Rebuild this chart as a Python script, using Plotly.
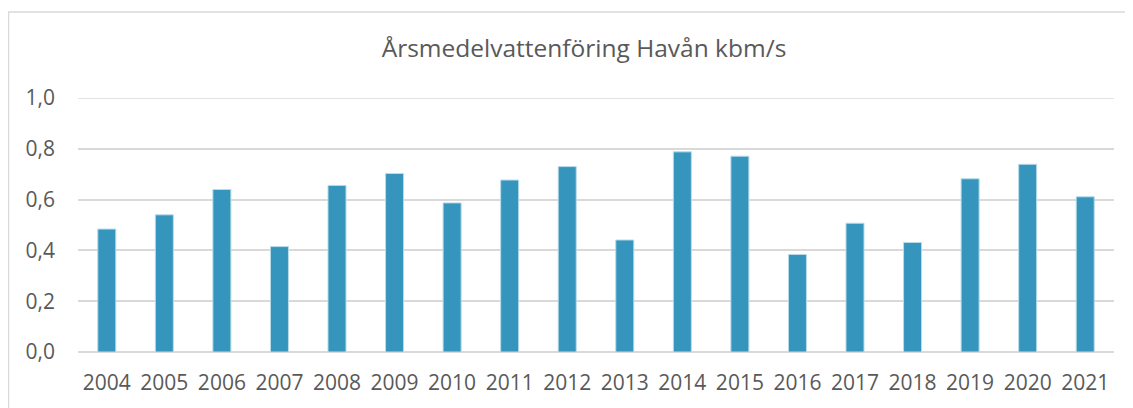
import plotly.graph_objects as go

years = ["2004", "2005", "2006", "2007", "2008", "2009", "2010", "2011", "2012",
         "2013", "2014", "2015", "2016", "2017", "2018", "2019", "2020", "2021"]
flow = [0.484, 0.540, 0.640, 0.415, 0.656, 0.703, 0.587, 0.677, 0.730,
        0.441, 0.788, 0.771, 0.384, 0.507, 0.431, 0.682, 0.739, 0.611]
ytick_vals = [0.0, 0.2, 0.4, 0.6, 0.8, 1.0]
ytick_text = ["0,0", "0,2", "0,4", "0,6", "0,8", "1,0"]
title = "Årsmedelvattenföring Havån kbm/s"

# page body has an 8px margin, so the figure is drawn 8px in from the window
OFF = 8
W, H = 1133 - OFF, 408 - OFF
L, R, T, B = 78 - OFF, 1133 - 1114, 98 - OFF, 408 - 355
pw, ph = W - L - R, H - T - B

def px2x(px):
    return (px - OFF - L) / pw

def px2y(py):
    return (H - B - (py - OFF)) / ph

fig = go.Figure()
fig.add_trace(go.Bar(
    x=years, y=flow,
    marker=dict(color="#3595bc", line=dict(color="#b8dcea", width=1)),
))

fig.update_layout(
    width=W, height=H,
    margin=dict(l=L, r=R, t=T, b=B),
    paper_bgcolor="white", plot_bgcolor="white",
    font=dict(family="Open Sans", color="#595959"),
    bargap=0.687,
    showlegend=False,
    title=dict(text=title, x=(584 - OFF) / W, xanchor="center",
               y=1 - (48 - OFF) / H, yanchor="middle",
               font=dict(size=24.5, color="#595959", family="Open Sans")),
    xaxis=dict(showgrid=False, showline=False, ticks="", tickfont=dict(size=21),
               ticklabelstandoff=16),
    yaxis=dict(range=[0, 1.0], tickvals=ytick_vals, ticktext=ytick_text,
               showgrid=True, gridcolor="#d9d9d9", gridwidth=1.5,
               zeroline=True, zerolinecolor="#d9d9d9", zerolinewidth=1.5,
               showline=False, ticks="", tickfont=dict(size=21),
               ticklabelstandoff=22),
    shapes=[
        dict(type="line", xref="paper", yref="y", x0=0, x1=1, y0=1.0, y1=1.0,
             line=dict(color="#d9d9d9", width=1.5), layer="below"),
        dict(type="line", xref="paper", yref="paper",
             x0=px2x(8.5), x1=px2x(8.5), y0=px2y(11), y1=px2y(420),
             line=dict(color="#d9d9d9", width=1.5)),
        dict(type="line", xref="paper", yref="paper",
             x0=px2x(8), x1=px2x(1145), y0=px2y(11), y1=px2y(11),
             line=dict(color="#d9d9d9", width=1.5)),
    ],
)

fig.write_html("out.html")
